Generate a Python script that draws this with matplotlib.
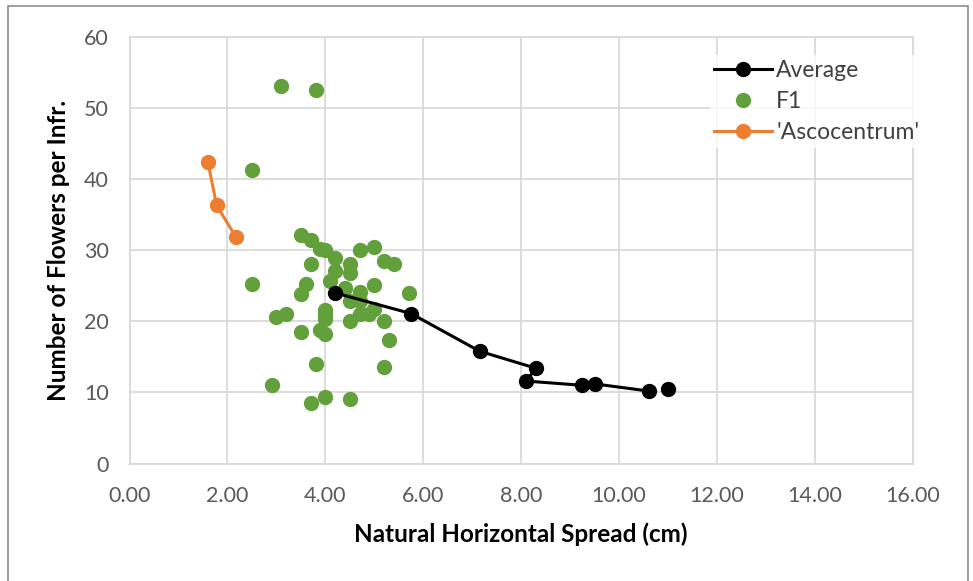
import numpy as np
import matplotlib
matplotlib.use("Agg")
import matplotlib.pyplot as plt
from matplotlib.patches import Rectangle

# F1 individual plants
f1_spread = [3.1, 3.8, 2.5, 3.5, 3.7, 3.9, 4.0, 4.7, 5.0, 4.2, 3.7, 4.5, 5.2, 5.4,
             4.2, 4.5, 2.5, 4.1, 3.6, 4.4, 5.0, 3.5, 5.7, 4.7, 4.5, 4.7, 5.0, 4.0,
             4.0, 4.0, 4.7, 4.9, 3.0, 3.2, 4.5, 5.2, 3.5, 3.9, 4.0, 5.3, 3.8, 5.2,
             2.9, 4.0, 4.5, 3.7]
f1_flowers = [53.1, 52.6, 41.3, 32.1, 31.4, 30.2, 30.1, 30.1, 30.5, 28.9, 28.0, 28.0, 28.5, 28.0,
              27.1, 26.8, 25.3, 25.7, 25.2, 24.7, 25.1, 23.9, 24.0, 24.1, 22.8, 22.8, 21.8, 21.6,
              21.0, 20.3, 21.0, 21.0, 20.6, 21.0, 20.1, 20.1, 18.5, 18.8, 18.2, 17.4, 14.0, 13.6,
              11.1, 9.3, 9.1, 8.5]

# averages (last value stands apart, gap before it)
avg_spread = [4.2, 5.75, 7.15, 8.3, 8.1, 9.25, 9.5, 10.6, np.nan, 11.0]
avg_flowers = [24.0, 21.1, 15.8, 13.4, 11.6, 11.0, 11.2, 10.2, np.nan, 10.5]

# 'Ascocentrum' parent
asco_spread = [1.6, 1.78, 2.17]
asco_flowers = [42.4, 36.3, 31.9]

x_ticks = np.arange(0, 16.01, 2)
y_ticks = np.arange(0, 61, 10)

plt.rcParams['font.family'] = ['Lato', 'DejaVu Sans']

fig = plt.figure(figsize=(9.73, 5.81), dpi=100)
ax = fig.add_axes([0.1331, 0.2022, 0.8052, 0.7341])

grid_col = '#D9D9D9'
ax.plot(avg_spread, avg_flowers, color='black', lw=2.2, marker='o', ms=10,
        label='Average', zorder=4)
ax.plot(f1_spread, f1_flowers, ls='none', marker='o', ms=10, color='#62A03C',
        label='F1', zorder=3)
ax.plot(asco_spread, asco_flowers, color='#ED7D31', lw=2.2, marker='o', ms=10,
        label="'Ascocentrum'", zorder=5)

ax.set_xlim(0, 16)
ax.set_ylim(0, 60)
ax.set_xticks(x_ticks)
ax.set_xticklabels([f"{v:.2f}" for v in x_ticks])
ax.set_yticks(y_ticks)
ax.grid(True, color=grid_col, lw=1.3)
ax.set_axisbelow(True)
for s in ax.spines.values():
    s.set_color(grid_col)
    s.set_linewidth(1.3)
ax.tick_params(length=0, labelsize=15.5, colors='#595959')
ax.tick_params(axis='x', pad=16)
ax.tick_params(axis='y', pad=15)

ax.set_xlabel('Natural Horizontal Spread (cm)', fontsize=17.5, fontweight='bold',
              color='black', labelpad=12)
ax.set_ylabel('Number of Flowers per Infr.', fontsize=17.5, fontweight='bold',
              color='black', labelpad=10)

leg = ax.legend(loc='upper right', bbox_to_anchor=(924 / 973, 1 - 55 / 581),
                bbox_transform=fig.transFigure, frameon=True, borderaxespad=0,
                borderpad=0.2, fontsize=16.5, handlelength=2.5, handletextpad=0.2,
                labelspacing=0.45)
leg.get_frame().set_facecolor('white')
leg.get_frame().set_edgecolor('none')
for t in leg.get_texts():
    t.set_color('#404040')

# chart area border
fig.patches.append(Rectangle((8 / 973, -0.01), 960 / 973, 1 - 6 / 581 + 0.01,
                             transform=fig.transFigure, fill=False,
                             edgecolor='#8C8C8C', lw=1.2))

fig.savefig('out.png', dpi=100)
